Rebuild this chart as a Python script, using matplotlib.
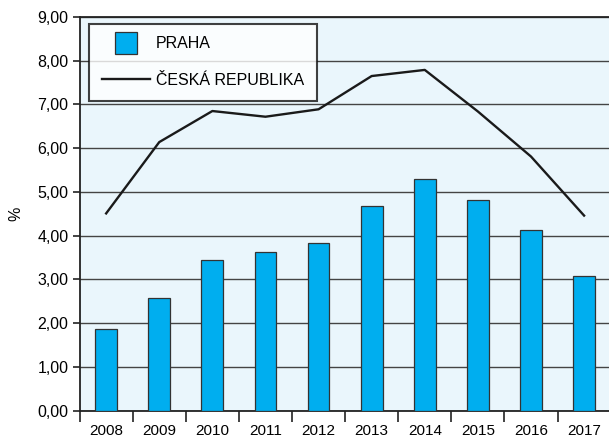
import matplotlib
matplotlib.use("Agg")
import matplotlib.pyplot as plt
from matplotlib.lines import Line2D
from matplotlib.ticker import FixedLocator, NullFormatter

plt.rcParams["font.family"] = ["Liberation Sans", "DejaVu Sans"]

years = ["2008", "2009", "2010", "2011", "2012", "2013", "2014", "2015", "2016", "2017"]
praha = [1.86, 2.57, 3.44, 3.62, 3.84, 4.69, 5.30, 4.82, 4.12, 3.09]
cr = [4.51, 6.14, 6.85, 6.72, 6.89, 7.65, 7.79, 6.84, 5.81, 4.46]
y_ticks = [0, 1, 2, 3, 4, 5, 6, 7, 8, 9]
y_labels = ["0,00", "1,00", "2,00", "3,00", "4,00", "5,00", "6,00", "7,00", "8,00", "9,00"]

bar_color = "#00AEEF"
line_color = "#1a1a1a"
bg_color = "#EAF6FC"

fig = plt.figure(figsize=(6.09, 4.41), dpi=100)
ax = fig.add_axes([0.1307, 0.0687, 0.872, 0.8928])
ax.set_facecolor(bg_color)

x = list(range(len(years)))
ax.bar(x, praha, width=0.41, color=bar_color, edgecolor="#333333", linewidth=0.9, zorder=3)
ax.plot(x, cr, color=line_color, linewidth=1.7, zorder=4)

ax.set_xlim(-0.5, len(years) - 0.5)
ax.set_ylim(0, 9)
ax.set_yticks(y_ticks)
ax.set_yticklabels(y_labels, fontsize=11.5)
ax.grid(axis="y", color="#444444", linewidth=1.0, zorder=1)

ax.set_xticks(x)
ax.set_xticklabels(years, fontsize=11)
ax.tick_params(axis="x", which="major", length=0, pad=9.5)
ax.xaxis.set_minor_locator(FixedLocator([i - 0.5 for i in range(len(years) + 1)]))
ax.xaxis.set_minor_formatter(NullFormatter())
ax.tick_params(axis="x", which="minor", length=8, width=1.2, color="#222222", direction="out")
ax.tick_params(axis="y", length=5, width=1.2, color="#222222", direction="out", pad=3)

for side in ["left", "bottom", "top"]:
    ax.spines[side].set_color("#222222")
    ax.spines[side].set_linewidth(1.3)
ax.spines["right"].set_visible(False)

ax.set_ylabel("%", fontsize=11.5, labelpad=10)

handles = [
    Line2D([], [], linestyle="none", marker="s", markersize=16, markerfacecolor=bar_color,
           markeredgecolor="#333333", markeredgewidth=0.9),
    Line2D([], [], color=line_color, linewidth=1.7),
]
leg = ax.legend(handles, ["PRAHA", "ČESKÁ REPUBLIKA"], loc="upper left",
                bbox_to_anchor=(0.018, 0.983), fontsize=11.5, frameon=True, fancybox=False,
                handlelength=3.0, handletextpad=0.4, labelspacing=1.35,
                borderpad=0.8, borderaxespad=0)
leg.get_frame().set_edgecolor("#111111")
leg.get_frame().set_linewidth(1.5)
leg.get_frame().set_facecolor("white")
leg.set_zorder(5)

fig.savefig("out.png", dpi=100)
